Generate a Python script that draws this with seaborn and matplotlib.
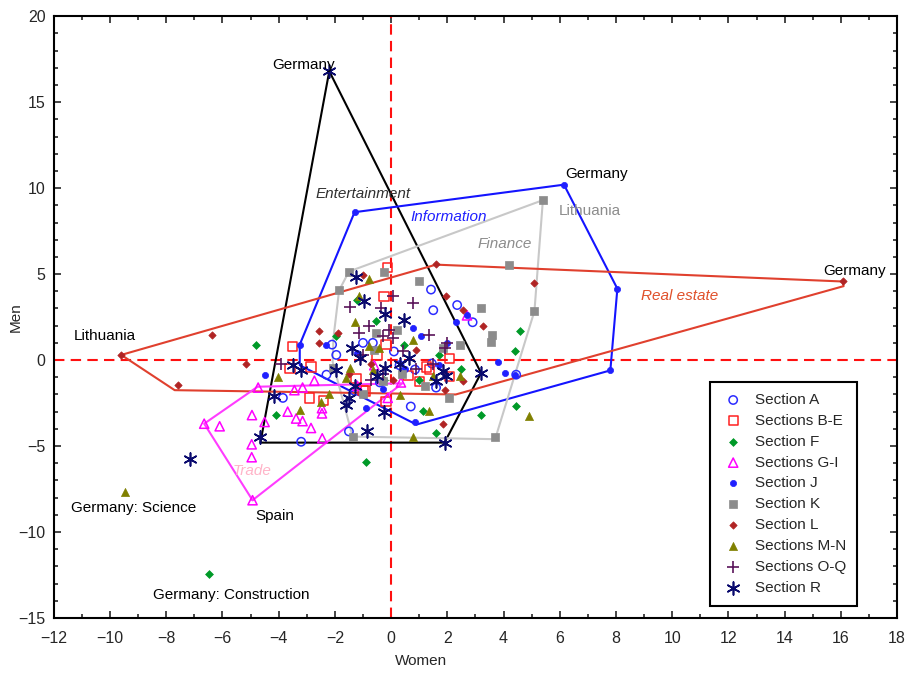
import numpy as np
import pandas as pd
import seaborn as sns
import matplotlib.pyplot as plt
from matplotlib.ticker import MultipleLocator

sns.set_style('ticks')
plt.rcParams['font.family'] = ['Liberation Sans', 'DejaVu Sans']

# (women, men) scores for each group of sections
sec_a = [(1.42, 4.1), (2.35, 3.2), (1.5, 2.9), (-2.1, 0.9), (-1.95, 0.3), (-1.0, 1.0), (-0.65, 1.0),
         (0.85, -0.55), (0.3, -0.3), (1.6, -1.6), (0.7, -2.7), (-2.3, -0.85), (-3.2, -4.75),
         (-1.5, -4.15), (-3.85, -2.2), (4.45, -0.85), (1.45, -0.2), (-0.4, -1.3), (2.9, 2.2),
         (-1.3, -1.8), (0.1, 0.5)]
sec_be = [(-0.12, 5.4), (-0.25, 3.7), (-3.5, 0.8), (-2.85, -0.4), (-3.6, -0.5), (-0.18, 0.9),
          (2.07, 0.1), (1.25, -0.4), (1.0, -1.25), (-2.9, -2.2), (-2.4, -2.35), (-0.18, -2.4),
          (-1.0, -1.75), (2.07, -0.95), (1.36, -0.55), (-1.25, -1.05), (-0.9, -1.8), (-0.5, 0.3),
          (0.6, -0.9)]
sec_f = [(-6.47, -12.45), (-0.9, -5.9), (-4.8, 0.9), (-4.1, -3.2), (4.4, 0.5), (4.45, -2.65),
         (3.2, -3.2), (4.57, 1.67), (-0.55, 2.3), (-1.96, 1.4), (0.45, 0.85), (1.12, -2.95),
         (1.6, -4.25), (2.5, -0.5), (-1.2, 3.5), (1.72, 0.3), (1.0, -1.15), (-0.25, -1.15)]
sec_gi = [(-4.93, -8.15), (-6.65, -3.7), (-6.1, -3.85), (-4.95, -3.2), (-4.96, -4.9), (-4.96, -5.65),
          (-4.73, -1.6), (-4.5, -3.6), (-3.68, -3.0), (-3.38, -3.4), (-3.15, -3.55), (-2.85, -3.95),
          (-2.46, -2.8), (-2.46, -3.1), (-2.45, -4.55), (-2.73, -1.2), (-3.15, -1.6), (-3.44, -1.75),
          (0.35, -1.3), (-0.12, -2.2), (2.7, 2.6), (-0.6, -0.3), (-1.2, -1.5)]
sec_j = [(-1.3, 8.6), (6.15, 10.2), (8.05, 4.15), (7.8, -0.6), (0.85, -3.6), (-3.25, 0.9),
         (-4.5, -0.85), (-2.3, 0.9), (0.77, 1.86), (1.05, 1.4), (2.3, 2.2), (2.7, 2.6), (2.0, 1.0),
         (3.8, -0.1), (4.05, -0.75), (4.4, -0.85), (-0.9, -2.8), (1.7, -0.3), (-1.2, 0.4),
         (0.5, -0.5), (-0.3, -1.7)]
sec_k = [(5.4, 9.3), (5.1, 2.85), (3.7, -4.45), (-1.37, -4.45), (-1.5, 5.15), (-1.85, 4.05),
         (-0.25, 5.15), (1.0, 4.6), (4.2, 5.55), (3.2, 3.0), (3.6, 1.45), (3.55, 1.05), (0.2, 1.75),
         (-0.55, 1.55), (1.85, 0.7), (2.45, 0.9), (0.4, -0.8), (2.05, -2.2), (-2.05, -0.45),
         (-0.3, -1.2), (-1.0, -2.0), (1.2, -1.5), (-0.6, 0.6)]
sec_l = [(-9.6, 0.3), (-7.57, -1.47), (-6.38, 1.43), (-5.18, -0.2), (16.06, 4.57), (1.6, 5.6),
         (5.1, 4.48), (2.55, 2.92), (3.26, 2.0), (1.9, -1.75), (-2.55, 1.67), (-2.55, 1.0),
         (-1.9, 1.55), (-1.0, 4.95), (1.96, 3.7), (0.06, -1.14), (2.55, -1.24), (1.84, -3.7),
         (-0.7, -0.2), (0.9, 0.6), (-1.5, -0.8)]
sec_mn = [(-9.46, -7.65), (4.92, -3.27), (-4.04, -1.0), (-3.25, -2.9), (1.36, -2.98), (1.48, -0.95),
          (0.3, -2.05), (-1.6, -1.05), (-0.77, 0.8), (-0.77, 4.7), (-1.15, 3.75), (0.77, 1.15),
          (-2.49, -2.45), (-0.42, 0.7), (2.45, -0.95), (-1.48, -0.47), (-2.2, -2.0), (-0.65, -0.56),
          (0.77, -4.5), (-1.3, 2.2)]
sec_oq = [(0.06, 3.75), (0.77, 3.3), (-1.48, 3.1), (-0.36, 3.0), (-0.77, 1.96), (-0.3, 1.38),
          (1.36, 1.45), (-1.13, 1.57), (-3.91, -0.25), (-0.71, -1.14), (-0.06, 1.76), (0.41, 0.5),
          (2.0, 1.0), (0.06, 1.28), (1.9, 0.7), (-0.3, -0.8), (0.9, -0.5), (-1.0, 0.3), (1.5, -0.2)]
sec_r = [(-2.2, 16.8), (-4.65, -4.45), (-7.15, -5.75), (1.9, -4.8), (3.2, -0.75), (-0.85, -4.1),
         (-1.25, 4.85), (-0.95, 3.45), (-0.2, 2.7), (0.45, 2.35), (-1.4, 0.7), (-1.1, 0.1),
         (-3.5, -0.3), (-3.2, -0.55), (0.65, 0.1), (1.85, -0.65), (1.95, -0.95), (-1.95, -0.55),
         (-0.2, -0.45), (-1.5, -2.2), (-1.6, -2.6), (-0.25, -3.0), (-4.15, -2.1), (-1.3, -1.5),
         (-0.5, -0.9), (0.3, -0.2), (1.6, -1.2)]

# hull outlines of the highlighted sections
hull_entertainment = [(-2.2, 16.8), (3.2, -0.75), (1.9, -4.8), (-4.65, -4.8)]
hull_information = [(-1.3, 8.6), (6.15, 10.2), (8.05, 4.15), (7.8, -0.6), (0.9, -3.75),
                    (-3.25, -0.3), (-3.25, 0.9)]
hull_finance = [(5.4, 9.3), (5.1, 2.85), (3.7, -4.6), (-1.37, -4.45), (-2.08, -0.1),
                (-2.05, 1.3), (-1.85, 4.05), (-1.5, 5.15)]
hull_real_estate = [(-9.6, 0.3), (1.6, 5.55), (16.06, 4.57), (16.1, 4.3), (2.3, -2.0),
                    (-7.7, -1.75)]
hull_trade = [(-4.93, -8.15), (-6.65, -3.7), (-4.75, -1.55), (0.4, -1.35)]

sections = [
    ('Section A', sec_a, 'o', '#2b2bff', True, 36),
    ('Sections B-E', sec_be, 's', '#ff2020', True, 44),
    ('Section F', sec_f, 'D', '#009a28', False, 16),
    ('Sections G-I', sec_gi, '^', '#ff00ff', True, 44),
    ('Section J', sec_j, 'o', '#2020ff', False, 20),
    ('Section K', sec_k, 's', '#8c8c8c', False, 28),
    ('Section L', sec_l, 'D', '#b02424', False, 14),
    ('Sections M-N', sec_mn, '^', '#808000', False, 34),
    ('Sections O-Q', sec_oq, '+', '#5a145a', False, 85),
    ('Section R', sec_r, (6, 2, 0), '#0a0a6e', False, 85),
]

hulls = [
    (hull_entertainment, 'black'),
    (hull_information, '#1414ff'),
    (hull_finance, '#c8c8c8'),
    (hull_real_estate, '#e0402e'),
    (hull_trade, '#ff3cff'),
]

fig, ax = plt.subplots(figsize=(9.12, 6.73), dpi=100)
fig.subplots_adjust(left=0.059, right=0.9836, top=0.976, bottom=0.0817)

for pts, col in hulls:
    xs = [p[0] for p in pts] + [pts[0][0]]
    ys = [p[1] for p in pts] + [pts[0][1]]
    ax.plot(xs, ys, color=col, lw=1.5, zorder=2)

ax.axvline(0, color='#ff1010', ls=(0, (5, 3)), lw=1.5, zorder=1)
ax.axhline(0, color='#ff1010', ls=(0, (5, 3)), lw=1.5, zorder=1)

for name, pts, mk, col, hollow, size in sections:
    df = pd.DataFrame(pts, columns=['women', 'men'])
    if hollow:
        sns.scatterplot(data=df, x='women', y='men', marker=mk, s=size, facecolors='none',
                        edgecolor=col, linewidth=1.1, label=name, ax=ax, zorder=3)
    elif mk in ('+', (6, 2, 0)):
        sns.scatterplot(data=df, x='women', y='men', marker=mk, s=size, color=col,
                        linewidth=1.2, label=name, ax=ax, zorder=3)
    else:
        sns.scatterplot(data=df, x='women', y='men', marker=mk, s=size, color=col,
                        edgecolor=col, linewidth=0.5, label=name, ax=ax, zorder=3)

labels = [
    (-3.1, 17.15, 'Germany', 'black', 'normal'),
    (-1.0, 9.65, 'Entertainment', '#303030', 'italic'),
    (2.04, 8.3, 'Information', '#2020ff', 'italic'),
    (7.3, 10.8, 'Germany', 'black', 'normal'),
    (7.06, 8.66, 'Lithuania', '#8c8c8c', 'normal'),
    (4.03, 6.74, 'Finance', '#8c8c8c', 'italic'),
    (16.5, 5.2, 'Germany', 'black', 'normal'),
    (10.27, 3.72, 'Real estate', '#e0502a', 'italic'),
    (-10.2, 1.4, 'Lithuania', 'black', 'normal'),
    (-4.93, -6.45, 'Trade', '#ffb4c8', 'italic'),
    (-4.15, -9.07, 'Spain', 'black', 'normal'),
    (-9.17, -8.6, 'Germany: Science', 'black', 'normal'),
    (-5.68, -13.66, 'Germany: Construction', 'black', 'normal'),
]
for x, y, txt, col, style in labels:
    ax.text(x, y, txt, color=col, style=style, fontsize=11, ha='center', va='center', zorder=4)

ax.set_xlim(-12, 18)
ax.set_ylim(-15, 20)
ax.xaxis.set_major_locator(MultipleLocator(2))
ax.xaxis.set_minor_locator(MultipleLocator(1))
ax.yaxis.set_major_locator(MultipleLocator(5))
ax.yaxis.set_minor_locator(MultipleLocator(1))
ax.tick_params(which='both', direction='in', top=True, right=True, width=1.2, labelsize=11.5)
ax.tick_params(which='major', length=5)
ax.tick_params(which='minor', length=3)
ax.tick_params(axis='x', which='major', pad=9)
ax.tick_params(axis='y', which='major', pad=6)
for sp in ax.spines.values():
    sp.set_linewidth(1.5)
    sp.set_color('black')
ax.set_xlabel('Women', fontsize=11)
ax.set_ylabel('Men', fontsize=11)
ax.xaxis.set_label_coords(0.435, -0.06)
ax.yaxis.set_label_coords(-0.037, 0.5)

leg = ax.legend(loc='lower right', bbox_to_anchor=(0.961, 0.008), frameon=True, fancybox=False,
                edgecolor='black', framealpha=1, fontsize=11, handletextpad=0.6,
                labelspacing=0.45, borderpad=0.7, handlelength=1.6)
leg.get_frame().set_linewidth(1.5)

fig.savefig('out.png', dpi=100)
